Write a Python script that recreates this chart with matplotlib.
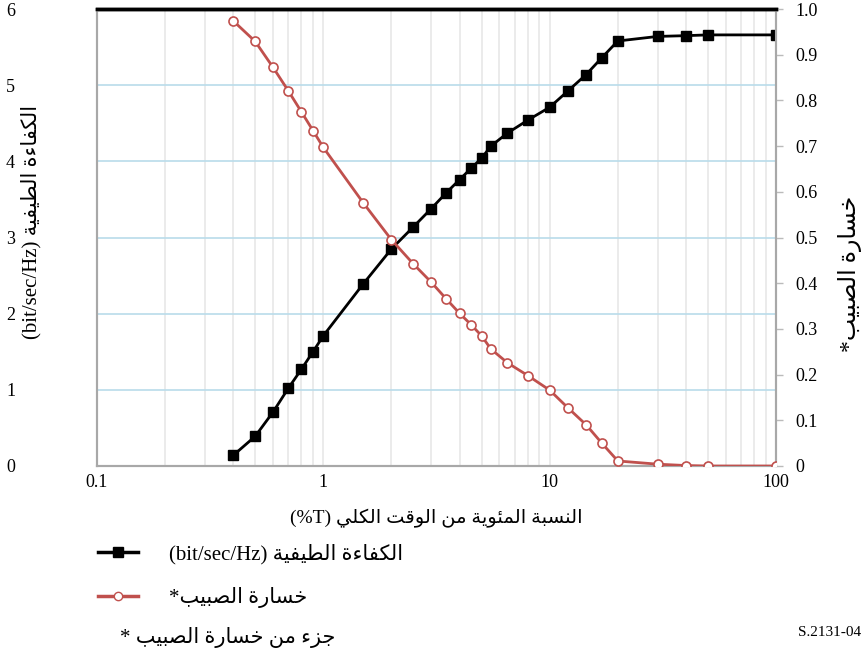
import matplotlib
matplotlib.use('Agg')
import matplotlib.pyplot as plt
from matplotlib.lines import Line2D
from matplotlib.font_manager import FontProperties
from matplotlib.ticker import FixedLocator, NullFormatter, FuncFormatter

# percentage of total time (x) and the two curves
pct = [0.4, 0.5, 0.6, 0.7, 0.8, 0.9, 1, 1.5, 2, 2.5, 3, 3.5, 4, 4.5, 5, 5.5,
       6.5, 8, 10, 12, 14.5, 17, 20, 30, 40, 50, 100]
spectral_eff = [0.14, 0.39, 0.71, 1.02, 1.27, 1.50, 1.71, 2.39, 2.85, 3.14,
                3.38, 3.59, 3.76, 3.91, 4.04, 4.20, 4.37, 4.54, 4.71, 4.92,
                5.14, 5.36, 5.58, 5.64, 5.65, 5.66, 5.66]
throughput_loss = [0.974, 0.929, 0.872, 0.821, 0.775, 0.734, 0.697, 0.576,
                   0.495, 0.442, 0.402, 0.365, 0.334, 0.309, 0.285, 0.256,
                   0.226, 0.198, 0.166, 0.128, 0.090, 0.050, 0.011, 0.004,
                   0.001, 0.0, 0.0]

x_ticks = [0.1, 1, 10, 100]
x_ticklabels = ['0.1', '1', '10', '100']
left_ticks = [0, 1, 2, 3, 4, 5, 6]
right_ticks = [0, 0.1, 0.2, 0.3, 0.4, 0.5, 0.6, 0.7, 0.8, 0.9, 1.0]

# Arabic presentation forms: (isolated, final, initial, medial)
FORMS = {
    '\u0621': ('\uFE80', None, None, None),
    '\u0626': ('\uFE89', '\uFE8A', '\uFE8B', '\uFE8C'),
    '\u0627': ('\uFE8D', '\uFE8E', None, None),
    '\u0628': ('\uFE8F', '\uFE90', '\uFE91', '\uFE92'),
    '\u0629': ('\uFE93', '\uFE94', None, None),
    '\u062A': ('\uFE95', '\uFE96', '\uFE97', '\uFE98'),
    '\u062C': ('\uFE9D', '\uFE9E', '\uFE9F', '\uFEA0'),
    '\u062E': ('\uFEA5', '\uFEA6', '\uFEA7', '\uFEA8'),
    '\u0631': ('\uFEAD', '\uFEAE', None, None),
    '\u0632': ('\uFEAF', '\uFEB0', None, None),
    '\u0633': ('\uFEB1', '\uFEB2', '\uFEB3', '\uFEB4'),
    '\u0635': ('\uFEB9', '\uFEBA', '\uFEBB', '\uFEBC'),
    '\u0637': ('\uFEC1', '\uFEC2', '\uFEC3', '\uFEC4'),
    '\u0641': ('\uFED1', '\uFED2', '\uFED3', '\uFED4'),
    '\u0642': ('\uFED5', '\uFED6', '\uFED7', '\uFED8'),
    '\u0643': ('\uFED9', '\uFEDA', '\uFEDB', '\uFEDC'),
    '\u0644': ('\uFEDD', '\uFEDE', '\uFEDF', '\uFEE0'),
    '\u0645': ('\uFEE1', '\uFEE2', '\uFEE3', '\uFEE4'),
    '\u0646': ('\uFEE5', '\uFEE6', '\uFEE7', '\uFEE8'),
    '\u0648': ('\uFEED', '\uFEEE', None, None),
    '\u064A': ('\uFEF1', '\uFEF2', '\uFEF3', '\uFEF4'),
}


def ar(text):
    """Join Arabic letters and return them in display (right-to-left) order."""
    out = []
    for i, ch in enumerate(text):
        if ch not in FORMS:
            out.append(ch)
            continue
        prev = text[i - 1] if i > 0 else ''
        nxt = text[i + 1] if i + 1 < len(text) else ''
        iso, fin, ini, med = FORMS[ch]
        j_prev = prev in FORMS and FORMS[prev][2] is not None and fin is not None
        j_next = nxt in FORMS and FORMS[nxt][1] is not None and ini is not None
        if j_prev and j_next:
            out.append(med)
        elif j_prev:
            out.append(fin)
        elif j_next:
            out.append(ini)
        else:
            out.append(iso)
    return ''.join(reversed(out))


lbl_se = '(bit/sec/Hz) ' + ar('الكفاءة الطيفية')
lbl_loss = '*' + ar('خسارة الصبيب')
lbl_x = '(%T) ' + ar('النسبة المئوية من الوقت الكلي')
note = '* ' + ar('جزء من خسارة الصبيب')

FAM = ['Liberation Serif', 'DejaVu Sans']
plt.rcParams['font.family'] = FAM

fig = plt.figure(figsize=(8.68, 6.61), dpi=100)
ax = fig.add_axes([97 / 868, 1 - 466 / 661, (776 - 97) / 868, (466 - 9) / 661])
ax2 = ax.twinx()

ax.set_xscale('log')
ax.set_xlim(0.1, 100)
ax.set_ylim(0, 6)
ax2.set_ylim(0, 1.0)

# grid: grey verticals on every log step, light blue horizontals
ax.xaxis.set_minor_locator(FixedLocator([m * 10.0 ** e for e in (-1, 0, 1)
                                          for m in range(2, 10)]))
ax.xaxis.set_minor_formatter(NullFormatter())
ax.grid(True, which='both', axis='x', color='#e8e8e8', lw=1.2)
ax.set_yticks(left_ticks)
ax.grid(True, which='major', axis='y', color='#b9dcea', lw=1.2)
ax.set_axisbelow(True)

ax.set_xticks(x_ticks)
ax.set_xticklabels(x_ticklabels)
ax2.set_yticks(right_ticks)
ax2.yaxis.set_major_formatter(FuncFormatter(
    lambda v, p: '0' if v == 0 else '%.1f' % v))

ax.tick_params(axis='both', which='both', length=0, labelsize=13, pad=6)
# the left numbers sit far out, beside the outer edge of the figure
ax.tick_params(axis='y', pad=59)
ax2.tick_params(axis='y', length=5, width=1, color='#bbbbbb', labelsize=13,
                pad=9)

for a in (ax, ax2):
    for side in ('left', 'right', 'bottom'):
        a.spines[side].set_color('#a8a8a8')
        a.spines[side].set_linewidth(1.5)
    a.spines['top'].set_color('black')
    a.spines['top'].set_linewidth(2.5)

ax.plot(pct, spectral_eff, color='black', lw=2, marker='s', ms=6.5,
        mfc='black', mec='black', zorder=3)
ax2.plot(pct, throughput_loss, color='#c0504d', lw=2, marker='o', ms=6.5,
         mfc='white', mec='#c0504d', mew=1.2, zorder=3)

fp = FontProperties(family=FAM, size=15)
fp_x = FontProperties(family=FAM, size=14)
fp_r = FontProperties(family=FAM, size=17)
ax.set_xlabel(lbl_x, fontproperties=fp_x, labelpad=13)
fig.text(31 / 868, 1 - 222 / 661, lbl_se, rotation=90, ha='center',
         va='center', fontproperties=fp)
fig.text(850 / 868, 1 - 274 / 661, lbl_loss, rotation=90, ha='center',
         va='center', fontproperties=fp_r)

handles = [
    Line2D([], [], color='black', lw=2.5, marker='s', ms=7, mfc='black'),
    Line2D([], [], color='#c0504d', lw=2.5, marker='o', ms=6, mfc='white',
           mec='#c0504d'),
]
fig.legend(handles, [lbl_se, lbl_loss], loc='upper left',
           bbox_to_anchor=(98 / 868, 1 - 544 / 661), frameon=False,
           prop=fp, handlelength=1.9, handletextpad=1.5, labelspacing=1.1,
           borderaxespad=0, borderpad=0)

fig.text(120 / 868, 1 - 638 / 661, note, ha='left', va='center',
         fontproperties=fp)
fig.text(861 / 868, 1 - 632 / 661, 'S.2131-04', ha='right', va='center',
         fontsize=11, family=FAM)

fig.savefig('out.png', dpi=100)
